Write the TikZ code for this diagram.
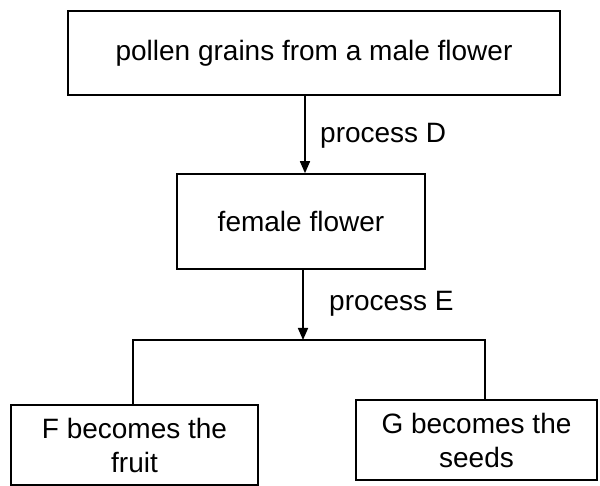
\documentclass[tikz,border=0pt]{standalone}
\usepackage{fontspec}
\setmainfont{Liberation Sans}
\usetikzlibrary{arrows.meta}
\begin{document}
\begin{tikzpicture}[x=1pt,y=-1pt,
  box/.style={draw, line width=1.6pt, rectangle, inner sep=0pt, align=center, font=\fontsize{28}{34}\selectfont},
  lbl/.style={font=\fontsize{28}{34}\selectfont, anchor=west, inner sep=0pt},
  conn/.style={line width=1.6pt},
  arr/.style={conn, -{Triangle[length=12pt,width=10pt]}}]
\useasboundingbox (0,0) rectangle (600,486);
\node[box, minimum width=492pt, minimum height=84pt] (top) at (314,53) {pollen grains from a male flower};
\node[box, minimum width=248pt, minimum height=95pt] (mid) at (301,221.5) {female flower};
\node[box, minimum width=247pt, minimum height=80pt] (left) at (134.5,445) {F becomes the\\fruit};
\node[box, minimum width=241pt, minimum height=80pt] (right) at (476.5,440) {G becomes the\\seeds};
\coordinate (x1) at (305,0);
\coordinate (j) at (303,340);
\coordinate (jl) at (133,340);
\coordinate (jr) at (485,340);
\draw[arr] (top.south -| x1) -- (mid.north -| x1);
\draw[arr] (mid.south -| j) -- (j);
\draw[conn] (left.north -| jl) -- (jl) -- (jr) -- (right.north -| jr);
\node[lbl] (pD) at (320,136) {process D};
\node[lbl] (pE) at (329,304) {process E};
\end{tikzpicture}
\end{document}
